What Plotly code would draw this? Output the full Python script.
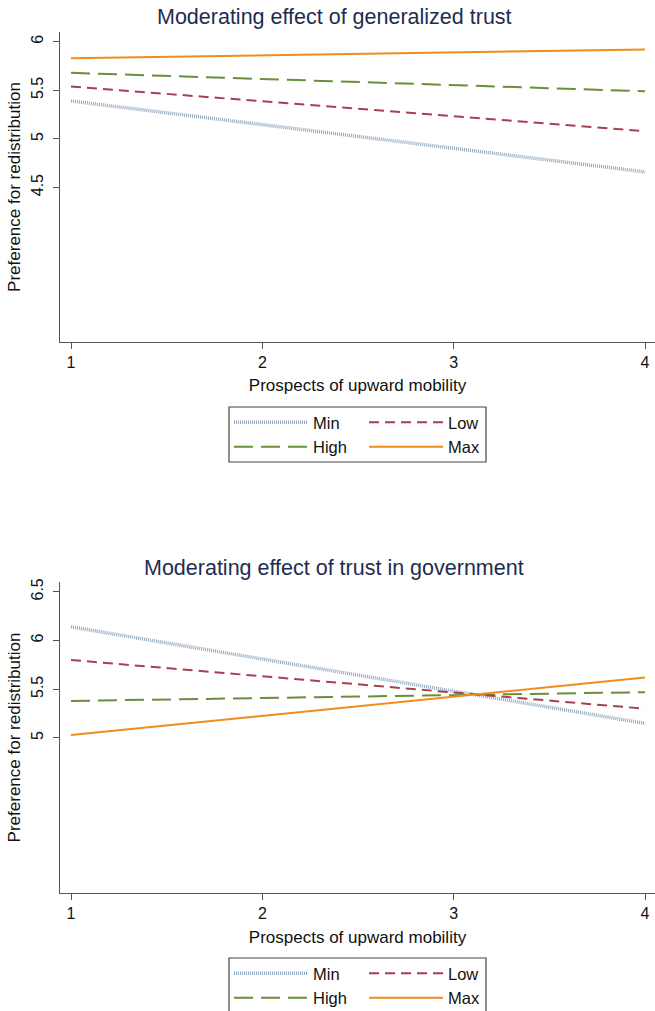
import plotly.graph_objects as go

x_vals = [1, 4]
series_names = ["Min", "Low", "High", "Max"]

# Panel 1: generalized trust
gen_min = [5.39, 4.66]
gen_low = [5.54, 5.08]
gen_high = [5.68, 5.49]
gen_max = [5.83, 5.92]

# Panel 2: trust in government
gov_min = [6.14, 5.15]
gov_low = [5.80, 5.30]
gov_high = [5.38, 5.47]
gov_max = [5.03, 5.62]

x_ticks = [1, 2, 3, 4]
y_ticks_top = [4.5, 5, 5.5, 6]
y_ticks_bottom = [5, 5.5, 6, 6.5]

titles = ["Moderating effect of generalized trust", "Moderating effect of trust in government"]
x_title = "Prospects of upward mobility"
y_title = "Preference for redistribution"

styles = {
    "Min": dict(color="#93a8bf", width=3.5, dash="1px,1px"),
    "Low": dict(color="#a6424d", width=2, dash="10px,6px"),
    "High": dict(color="#6a8f3c", width=2, dash="19px,8px"),
    "Max": dict(color="#f28d1d", width=2, dash="solid"),
}
# legend columns: left column Min/High, right column Low/Max
legend_col = {"Min": 0, "High": 0, "Low": 1, "Max": 1}

W, H = 655, 1011
FONT = "Arial, Liberation Sans, sans-serif"


def py(p):
    return 1 - p / H


fig = go.Figure()
panels = [
    (dict(zip(series_names, [gen_min, gen_low, gen_high, gen_max])), "x", "y", ["legend", "legend2"]),
    (dict(zip(series_names, [gov_min, gov_low, gov_high, gov_max])), "x2", "y2", ["legend3", "legend4"]),
]
for data, xa, ya, lgs in panels:
    for name in ["Min", "High", "Low", "Max"]:
        fig.add_trace(go.Scatter(
            x=x_vals, y=data[name], mode="lines", name=name,
            line=styles[name], xaxis=xa, yaxis=ya, legend=lgs[legend_col[name]],
        ))

axis_common = dict(
    showline=True, linecolor="#555555", linewidth=1.3, mirror=False,
    ticks="outside", ticklen=6, tickcolor="#555555", tickwidth=1.2,
    showgrid=False, zeroline=False,
    tickfont=dict(family=FONT, size=16, color="#111111"),
)


def leg(xpix, ypix):
    return dict(orientation="v", x=xpix / W, xanchor="left", y=py(ypix), yanchor="top",
                borderwidth=0, bgcolor="rgba(0,0,0,0)", font=dict(size=16.5),
                tracegroupgap=0, itemwidth=74)


fig.update_layout(
    width=W, height=H,
    margin=dict(l=0, r=0, t=0, b=0, autoexpand=False),
    paper_bgcolor="white", plot_bgcolor="white",
    font=dict(family=FONT, color="#111111"),
    xaxis=dict(domain=[60 / W, 1], range=[0.9425, 4.052], tickvals=x_ticks,
               title=dict(text=x_title, font=dict(size=17), standoff=8), anchor="y", **axis_common),
    yaxis=dict(domain=[py(342), py(32)], range=[2.91, 6.10], tickvals=y_ticks_top, tickangle=-90,
               ticklabelstandoff=3,
               title=dict(text=y_title, font=dict(size=17), standoff=4), anchor="x", **axis_common),
    xaxis2=dict(domain=[60 / W, 1], range=[0.9425, 4.052], tickvals=x_ticks,
                title=dict(text=x_title, font=dict(size=17), standoff=9), anchor="y2", **axis_common),
    yaxis2=dict(domain=[py(893), py(582)], range=[3.41, 6.60], tickvals=y_ticks_bottom, tickangle=-90,
                ticklabelstandoff=3,
                title=dict(text=y_title, font=dict(size=17), standoff=4), anchor="x2", **axis_common),
    legend=leg(229, 405),
    legend2=leg(364, 405),
    legend3=leg(229, 956),
    legend4=leg(364, 956),
    showlegend=True,
)

for y0, y1 in [(407, 462), (958, 1013)]:
    fig.add_shape(type="rect", xref="paper", yref="paper",
                  x0=229 / W, x1=486 / W, y0=py(y1), y1=py(y0),
                  line=dict(color="#444444", width=1.2), fillcolor="rgba(0,0,0,0)")

for t, ypix in zip(titles, [17, 568]):
    fig.add_annotation(text=t, x=334 / W, y=py(ypix), xref="paper", yref="paper",
                       xanchor="center", yanchor="middle", showarrow=False,
                       font=dict(family=FONT, size=21.5, color="#1e2d4f"))

fig.write_html("out.html")
